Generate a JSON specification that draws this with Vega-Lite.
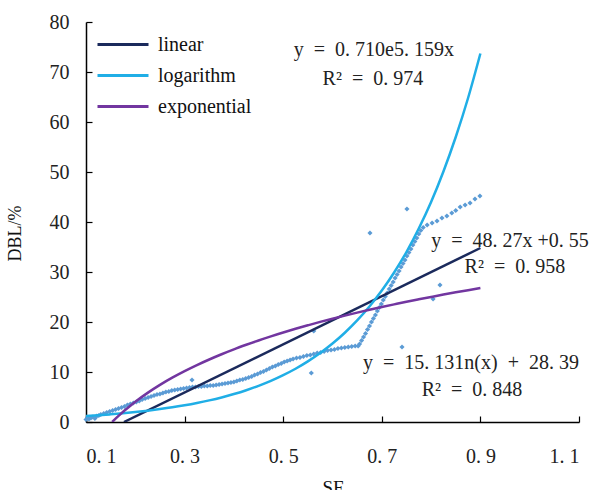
{
  "$schema": "https://vega.github.io/schema/vega-lite/v6.json",
  "width": 493,
  "height": 400,
  "autosize": {"type": "none"},
  "padding": {"left": 86, "top": 22, "right": 17, "bottom": 68},
  "background": "white",
  "config": {
    "view": {"stroke": null},
    "font": "Liberation Serif",
    "axis": {"grid": false, "domainColor": "#000000", "tickColor": "#000000", "domainWidth": 1.5, "tickWidth": 1.2, "labelFont": "Liberation Serif", "labelFontSize": 20, "labelColor": "#222222", "titleFont": "Liberation Serif", "titleFontWeight": "normal", "titleColor": "#111111"}
  },
  "datasets": {
    "pts": [
      {"x":0.100,"y":0.5},{"x":0.103,"y":0.9},{"x":0.106,"y":0.6},{"x":0.110,"y":0.8},{"x":0.114,"y":1.0},{"x":0.118,"y":0.7},{"x":0.122,"y":1.2},{"x":0.126,"y":1.3},{"x":0.130,"y":1.5},{"x":0.136,"y":1.7},{"x":0.142,"y":1.9},{"x":0.148,"y":2.1},{"x":0.154,"y":2.3},{"x":0.160,"y":2.5},{"x":0.166,"y":2.7},{"x":0.172,"y":2.9},{"x":0.178,"y":3.1},{"x":0.184,"y":3.4},{"x":0.190,"y":3.6},{"x":0.196,"y":3.8},{"x":0.202,"y":4.0},{"x":0.208,"y":4.2},{"x":0.214,"y":4.5},{"x":0.220,"y":4.7},{"x":0.226,"y":4.9},{"x":0.232,"y":5.1},{"x":0.238,"y":5.3},{"x":0.244,"y":5.5},{"x":0.250,"y":5.6},{"x":0.256,"y":5.8},{"x":0.262,"y":6.0},{"x":0.268,"y":6.1},{"x":0.274,"y":6.3},{"x":0.280,"y":6.4},{"x":0.286,"y":6.5},{"x":0.292,"y":6.6},{"x":0.298,"y":6.7},{"x":0.304,"y":6.8},{"x":0.310,"y":6.9},{"x":0.316,"y":7.0},{"x":0.322,"y":7.0},{"x":0.328,"y":7.1},{"x":0.334,"y":7.1},{"x":0.340,"y":7.2},{"x":0.346,"y":7.2},{"x":0.352,"y":7.3},{"x":0.358,"y":7.3},{"x":0.364,"y":7.4},{"x":0.370,"y":7.5},{"x":0.376,"y":7.6},{"x":0.382,"y":7.7},{"x":0.388,"y":7.8},{"x":0.394,"y":7.9},{"x":0.400,"y":8.0},{"x":0.406,"y":8.2},{"x":0.412,"y":8.4},{"x":0.418,"y":8.5},{"x":0.424,"y":8.7},{"x":0.430,"y":8.9},{"x":0.436,"y":9.1},{"x":0.442,"y":9.4},{"x":0.448,"y":9.6},{"x":0.454,"y":9.9},{"x":0.460,"y":10.1},{"x":0.466,"y":10.4},{"x":0.472,"y":10.7},{"x":0.478,"y":11.0},{"x":0.484,"y":11.2},{"x":0.490,"y":11.5},{"x":0.496,"y":11.7},{"x":0.502,"y":12.0},{"x":0.508,"y":12.2},{"x":0.514,"y":12.4},{"x":0.520,"y":12.6},{"x":0.527,"y":12.8},{"x":0.534,"y":12.9},{"x":0.541,"y":13.1},{"x":0.548,"y":13.3},{"x":0.555,"y":13.4},{"x":0.562,"y":13.6},{"x":0.569,"y":13.8},{"x":0.576,"y":13.9},{"x":0.583,"y":14.1},{"x":0.590,"y":14.3},{"x":0.597,"y":14.4},{"x":0.604,"y":14.5},{"x":0.611,"y":14.7},{"x":0.618,"y":14.8},{"x":0.625,"y":14.9},{"x":0.632,"y":15.0},{"x":0.639,"y":15.1},{"x":0.646,"y":15.2},{"x":0.652,"y":15.2},
      {"x":0.655,"y":15.6},{"x":0.659,"y":16.3},{"x":0.663,"y":17.0},{"x":0.667,"y":17.7},{"x":0.671,"y":18.5},{"x":0.675,"y":19.2},{"x":0.679,"y":20.0},{"x":0.683,"y":20.7},{"x":0.687,"y":21.4},{"x":0.691,"y":22.2},{"x":0.695,"y":22.9},{"x":0.699,"y":23.6},{"x":0.703,"y":24.4},{"x":0.707,"y":25.1},{"x":0.711,"y":25.8},{"x":0.715,"y":26.6},{"x":0.719,"y":27.3},{"x":0.723,"y":28.0},{"x":0.727,"y":28.8},{"x":0.731,"y":29.5},{"x":0.735,"y":30.2},{"x":0.739,"y":31.0},{"x":0.743,"y":31.7},{"x":0.747,"y":32.4},{"x":0.751,"y":33.2},{"x":0.755,"y":33.9},{"x":0.759,"y":34.6},{"x":0.763,"y":35.4},{"x":0.767,"y":36.1},{"x":0.771,"y":36.8},{"x":0.775,"y":37.6},{"x":0.779,"y":38.3},
      {"x":0.784,"y":38.9},{"x":0.792,"y":39.4},{"x":0.802,"y":39.8},{"x":0.812,"y":40.2},{"x":0.822,"y":40.8},{"x":0.832,"y":41.2},{"x":0.842,"y":41.8},{"x":0.850,"y":42.3},{"x":0.859,"y":43.0},{"x":0.869,"y":43.4},{"x":0.879,"y":43.8},{"x":0.889,"y":44.6},{"x":0.899,"y":45.2},
      {"x":0.315,"y":8.4},{"x":0.557,"y":9.8},{"x":0.562,"y":18.2},{"x":0.741,"y":15.0},{"x":0.804,"y":24.6},{"x":0.818,"y":27.4},{"x":0.676,"y":37.8},{"x":0.751,"y":42.6}
    ],
    "fits": [
      {"series":"linear","x":0.177,"y":0.0},{"series":"linear","x":0.9,"y":34.8},
      {"series":"logarithm","x":0.10,"y":1.19},{"series":"logarithm","x":0.125,"y":1.35},{"series":"logarithm","x":0.15,"y":1.54},{"series":"logarithm","x":0.175,"y":1.75},{"series":"logarithm","x":0.20,"y":1.99},{"series":"logarithm","x":0.225,"y":2.27},{"series":"logarithm","x":0.25,"y":2.58},{"series":"logarithm","x":0.275,"y":2.93},{"series":"logarithm","x":0.30,"y":3.34},{"series":"logarithm","x":0.325,"y":3.80},{"series":"logarithm","x":0.35,"y":4.32},{"series":"logarithm","x":0.375,"y":4.91},{"series":"logarithm","x":0.40,"y":5.59},{"series":"logarithm","x":0.425,"y":6.36},{"series":"logarithm","x":0.45,"y":7.24},{"series":"logarithm","x":0.475,"y":8.23},{"series":"logarithm","x":0.50,"y":9.37},{"series":"logarithm","x":0.525,"y":10.65},{"series":"logarithm","x":0.55,"y":12.12},{"series":"logarithm","x":0.575,"y":13.79},{"series":"logarithm","x":0.60,"y":15.69},{"series":"logarithm","x":0.625,"y":17.85},{"series":"logarithm","x":0.65,"y":20.31},{"series":"logarithm","x":0.675,"y":23.1},{"series":"logarithm","x":0.70,"y":26.28},{"series":"logarithm","x":0.725,"y":29.9},{"series":"logarithm","x":0.75,"y":34.0},{"series":"logarithm","x":0.775,"y":38.7},{"series":"logarithm","x":0.80,"y":44.0},{"series":"logarithm","x":0.825,"y":50.1},{"series":"logarithm","x":0.85,"y":57.0},{"series":"logarithm","x":0.875,"y":64.8},{"series":"logarithm","x":0.90,"y":73.7},
      {"series":"exponential","x":0.153,"y":0.0},{"series":"exponential","x":0.16,"y":0.66},{"series":"exponential","x":0.17,"y":1.58},{"series":"exponential","x":0.18,"y":2.44},{"series":"exponential","x":0.19,"y":3.26},{"series":"exponential","x":0.20,"y":4.04},{"series":"exponential","x":0.225,"y":5.82},{"series":"exponential","x":0.25,"y":7.42},{"series":"exponential","x":0.275,"y":8.86},{"series":"exponential","x":0.30,"y":10.17},{"series":"exponential","x":0.325,"y":11.38},{"series":"exponential","x":0.35,"y":12.50},{"series":"exponential","x":0.375,"y":13.55},{"series":"exponential","x":0.40,"y":14.53},{"series":"exponential","x":0.425,"y":15.44},{"series":"exponential","x":0.45,"y":16.31},{"series":"exponential","x":0.475,"y":17.13},{"series":"exponential","x":0.50,"y":17.90},{"series":"exponential","x":0.525,"y":18.64},{"series":"exponential","x":0.55,"y":19.34},{"series":"exponential","x":0.575,"y":20.02},{"series":"exponential","x":0.60,"y":20.66},{"series":"exponential","x":0.625,"y":21.28},{"series":"exponential","x":0.65,"y":21.87},{"series":"exponential","x":0.675,"y":22.44},{"series":"exponential","x":0.70,"y":22.99},{"series":"exponential","x":0.725,"y":23.52},{"series":"exponential","x":0.75,"y":24.04},{"series":"exponential","x":0.775,"y":24.53},{"series":"exponential","x":0.80,"y":25.01},{"series":"exponential","x":0.825,"y":25.48},{"series":"exponential","x":0.85,"y":25.93},{"series":"exponential","x":0.875,"y":26.37},{"series":"exponential","x":0.90,"y":26.80}
    ],
    "notes": [
      {"t":"y\u00a0\u00a0=\u00a0\u00a00.\u00a0710e5.\u00a0159x","x":0.684,"y":74.4},
      {"t":"R²\u00a0\u00a0=\u00a0\u00a00.\u00a0974","x":0.682,"y":68.6},
      {"t":"y\u00a0\u00a0=\u00a0\u00a048.\u00a027x\u00a0+0.\u00a055","x":0.960,"y":36.2},
      {"t":"R²\u00a0\u00a0=\u00a0\u00a00.\u00a0958","x":0.970,"y":31.0},
      {"t":"y\u00a0\u00a0=\u00a0\u00a015.\u00a0131n(x)\u00a0\u00a0+\u00a0\u00a028.\u00a039","x":0.881,"y":11.8},
      {"t":"R²\u00a0\u00a0=\u00a0\u00a00.\u00a0848","x":0.883,"y":6.4}
    ]
  },
  "layer": [
    {
      "data": {"name": "pts"},
      "mark": {"type": "point", "shape": "diamond", "filled": true, "size": 26, "color": "#5b9bd5", "opacity": 1},
      "encoding": {
        "x": {"field": "x", "type": "quantitative", "scale": {"domain": [0.1, 1.1], "nice": false, "zero": false},
          "axis": {"values": [0.1, 0.3, 0.5, 0.7, 0.9, 1.1], "labelExpr": "replace(format(datum.value, '.1f'), '.', '. ')", "tickSize": -6, "labelPadding": 30, "title": "SF", "titleFontSize": 19, "titlePadding": 12}},
        "y": {"field": "y", "type": "quantitative", "scale": {"domain": [0, 80], "nice": false},
          "axis": {"values": [0, 10, 20, 30, 40, 50, 60, 70, 80], "tickSize": -6, "labelPadding": 23, "title": "DBL/%", "titleFontSize": 18, "titleX": -71, "titleY": 211, "titleAlign": "center", "titleBaseline": "middle", "titleAngle": 270}}
      }
    },
    {
      "data": {"name": "fits"},
      "mark": {"type": "line", "strokeWidth": 2.5, "clip": true, "interpolate": "monotone"},
      "encoding": {
        "x": {"field": "x", "type": "quantitative"},
        "y": {"field": "y", "type": "quantitative"},
        "order": {"field": "x", "type": "quantitative"},
        "color": {"field": "series", "type": "nominal",
          "scale": {"domain": ["linear", "logarithm", "exponential"], "range": ["#1b2a5c", "#20aee6", "#7236a0"]},
          "legend": {"title": null, "orient": "none", "legendX": 10, "legendY": 7, "symbolType": "stroke", "symbolSize": 2601, "symbolStrokeWidth": 3, "labelFont": "Liberation Serif", "labelFontSize": 20, "labelColor": "#111111", "labelOffset": 8, "rowPadding": 0, "clipHeight": 31, "padding": 0}}
      }
    },
    {
      "data": {"name": "notes"},
      "mark": {"type": "text", "font": "Liberation Serif", "fontSize": 20, "color": "#222222", "align": "center", "baseline": "middle"},
      "encoding": {
        "x": {"field": "x", "type": "quantitative"},
        "y": {"field": "y", "type": "quantitative"},
        "text": {"field": "t"}
      }
    }
  ]
}
